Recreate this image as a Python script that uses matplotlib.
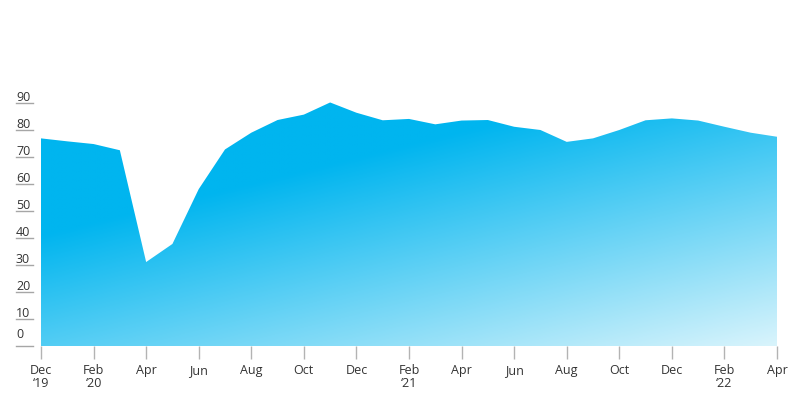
import numpy as np
import matplotlib.pyplot as plt
import matplotlib.transforms as mtransforms
from matplotlib.colors import LinearSegmentedColormap

plt.rcParams['font.family'] = ['Open Sans', 'DejaVu Sans']

# Monthly values, Dec 2019 .. Apr 2022
months = ['Dec', 'Jan', 'Feb', 'Mar', 'Apr', 'May', 'Jun', 'Jul', 'Aug', 'Sep', 'Oct', 'Nov',
          'Dec', 'Jan', 'Feb', 'Mar', 'Apr', 'May', 'Jun', 'Jul', 'Aug', 'Sep', 'Oct', 'Nov',
          'Dec', 'Jan', 'Feb', 'Mar', 'Apr']
values = [76.9, 75.8, 74.8, 72.5, 31.1, 37.8, 58.1, 72.8, 79.0, 83.7, 85.7, 90.2,
          86.4, 83.6, 84.1, 82.1, 83.5, 83.7, 81.2, 80.0, 75.6, 76.9, 80.0, 83.6,
          84.3, 83.5, 81.2, 79.0, 77.5]
year_marks = {0: '\u201819', 2: '\u201820', 14: '\u201821', 26: '\u201822'}
yticks = [0, 10, 20, 30, 40, 50, 60, 70, 80, 90]

x = np.arange(len(values))

fig = plt.figure(figsize=(8, 4), dpi=100)
ax = fig.add_axes([41 / 800, 54 / 400, 736 / 800, 270 / 400])
ax.set_xlim(0, len(values) - 1)
ax.set_ylim(0, 100)

# gradient fill clipped to the area shape
poly = ax.fill_between(x, 0, values, color='none', lw=0)
gx, gy = np.meshgrid(np.linspace(0, len(values) - 1, 400), np.linspace(0, 100, 300))
grad = np.clip(0.38 + 0.0221 * gx - 0.0092 * gy, 0, 1)
cmap = LinearSegmentedColormap.from_list('blu', ['#00b5ef', '#d9f4fc'])
im = ax.imshow(grad, extent=[0, len(values) - 1, 0, 100], origin='lower',
               cmap=cmap, vmin=0, vmax=1, aspect='auto', interpolation='bilinear')
path = poly.get_paths()[0]
im.set_clip_path(path, transform=ax.transData)

for s in ax.spines.values():
    s.set_visible(False)

# x axis ticks and labels
ticks = list(range(0, len(values), 2))
labels = []
for i in ticks:
    lab = months[i]
    if i in year_marks:
        lab += '\n' + year_marks[i]
    labels.append(lab)
ax.set_xticks(ticks)
ax.set_xticklabels(labels, fontsize=9, color='#333333', linespacing=1.0)
ax.tick_params(axis='x', length=9, width=1, color='#b3b3b3', pad=4)
ax.set_yticks([])

# y labels sitting on short rules left of the plot
trans = mtransforms.blended_transform_factory(ax.transAxes, ax.transData)
for v in yticks:
    ax.plot([-25 / 736, -8 / 736], [v, v], color='#a6a6a6', lw=1,
            transform=trans, clip_on=False)
    dy = 0.8 if v > 0 else 3.0
    ax.text(-25 / 736, v + dy, str(v), fontsize=9, color='#333333',
            transform=trans, ha='left', va='baseline')

fig.savefig('out.png', dpi=100)
